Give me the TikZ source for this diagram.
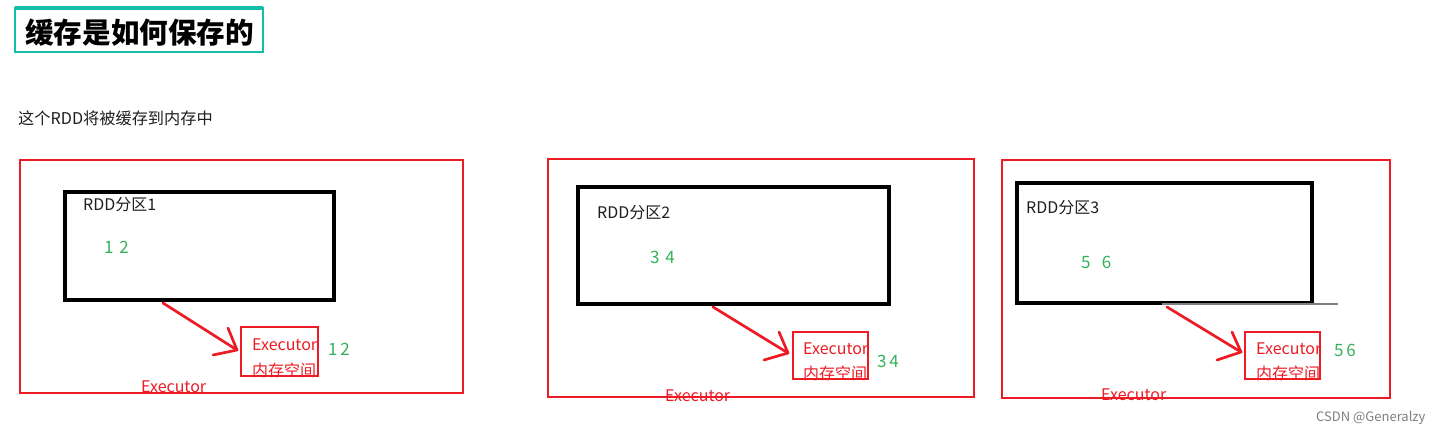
\documentclass[tikz,border=0pt]{standalone}
\usepackage{fontspec}
\setmainfont{Noto Sans CJK SC}
\usetikzlibrary{fit}
\definecolor{pred}{RGB}{237,28,36}
\definecolor{pgreen}{RGB}{52,178,90}
\definecolor{pteal}{RGB}{20,190,170}
\definecolor{ptext}{RGB}{30,30,30}
\begin{document}
\begin{tikzpicture}[x=1pt,y=-1pt,
  outerbox/.style={draw=pred, line width=2.8pt, inner sep=0pt, outer sep=0pt},
  rddbox/.style={draw=black, line width=3.2pt, inner sep=0pt, outer sep=0pt},
  membox/.style={draw=pred, line width=2.8pt, inner sep=0pt, outer sep=0pt},
  lbl/.style={anchor=west, inner sep=0pt, font=\fontsize{16}{18}\selectfont, text=ptext},
  num/.style={anchor=west, inner sep=0pt, font=\fontsize{17}{18}\selectfont, text=pgreen},
  redtxt/.style={anchor=west, inner sep=0pt, font=\fontsize{16}{18}\selectfont, text=pred},
  redline/.style={draw=pred, line width=2.7pt, line cap=round, line join=round}]
\useasboundingbox (0,0) rectangle (1450,436);
\fill[white] (0,0) rectangle (1450,436);
% title
\node[draw=pteal, line width=1.6pt, fit={(15,8) (263,52)}, inner sep=0pt] (tbox) {};
\fill[pteal] (15,6.5) rectangle (263,10.5);
\node[anchor=west, inner sep=0pt, font=\fontsize{28.6}{32}\selectfont\bfseries, text=black] (title) at (25,33) {缓存是如何保存的};
\node[anchor=west, inner sep=0pt, font=\fontsize{16.2}{18}\selectfont, text=ptext] (sub) at (18,118) {这个RDD将被缓存到内存中};
% ---------- group 1
\node[outerbox, fit={(20,160) (463,393)}] (e1) {};
\node[rddbox, fit={(65,192) (334,300)}] (r1) {};
\node[lbl] (l1) at (83,205) {RDD分区1};
\node[num] (n1) at (104,247) {1\,\,2};
\node[redtxt] (x1a) at (252,345) {Executor};
\node[redtxt] (x1b) at (252,370) {内存空间};
\node[membox, fit={(241,327) (318,376)}] (m1) {};
\node[num] (k1) at (328,349) {1\,2};
\node[redtxt] (ex1) at (141,387) {Executor};
\coordinate (a1s) at (163,303);
\coordinate (a1t) at (237,350);
\coordinate (a1h1) at (213,355);
\coordinate (a1h2) at (228,328);
\draw[redline] (a1s) -- (a1t);
\draw[redline] (a1h1) -- (a1t) -- (a1h2);
% ---------- group 2
\node[outerbox, fit={(548,159) (974,397)}] (e2) {};
\node[rddbox, fit={(578,187) (889,304)}] (r2) {};
\node[lbl] (l2) at (597,213) {RDD分区2};
\node[num] (n2) at (650,257) {3\,\,4};
\node[redtxt] (x2a) at (803,349) {Executor};
\node[redtxt] (x2b) at (803,373) {内存空间};
\node[membox, fit={(793,332) (868,379)}] (m2) {};
\node[num] (k2) at (877,361) {3\,4};
\node[redtxt] (ex2) at (665,396) {Executor};
\coordinate (a2s) at (713,307);
\coordinate (a2t) at (788,353);
\coordinate (a2h1) at (764,360);
\coordinate (a2h2) at (779,332);
\draw[redline] (a2s) -- (a2t);
\draw[redline] (a2h1) -- (a2t) -- (a2h2);
% ---------- group 3
\node[outerbox, fit={(1002,160) (1390,398)}] (e3) {};
\node[rddbox, fit={(1017,183) (1312,303)}] (r3) {};
\coordinate (g3a) at (1162,304);
\coordinate (g3b) at (1338,304);
\draw[gray, line width=1.3pt] (g3a) -- (g3b);
\node[lbl] (l3) at (1026,208) {RDD分区3};
\node[num] (n3) at (1081,262) {5\,\,\,\,6};
\node[redtxt] (x3a) at (1256,349) {Executor};
\node[redtxt] (x3b) at (1256,373) {内存空间};
\node[membox, fit={(1245,332) (1320,379)}] (m3) {};
\node[num] (k3) at (1334,350) {5\,6};
\node[redtxt] (ex3) at (1101,395) {Executor};
\coordinate (a3s) at (1167,307);
\coordinate (a3t) at (1241,352);
\coordinate (a3h1) at (1217,360);
\coordinate (a3h2) at (1232,332);
\draw[redline] (a3s) -- (a3t);
\draw[redline] (a3h1) -- (a3t) -- (a3h2);
% watermark
\node[anchor=west, inner sep=0pt, font=\fontsize{13}{15}\selectfont, text=gray] (wm) at (1316,418) {CSDN @Generalzy};
\end{tikzpicture}
\end{document}
